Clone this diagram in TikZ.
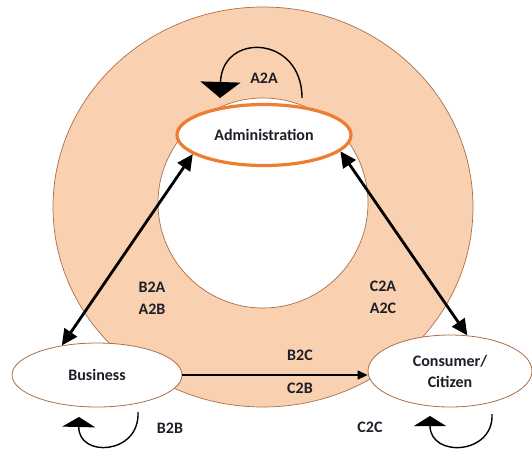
\documentclass[tikz,border=0pt]{standalone}
\usepackage{fontspec}
\setmainfont{Carlito}
\usetikzlibrary{shapes.geometric,arrows.meta}
\definecolor{peach}{RGB}{250,209,176}
\definecolor{rim}{RGB}{170,110,75}
\definecolor{adminorange}{RGB}{237,125,49}
\definecolor{txt}{RGB}{30,30,40}
\tikzset{
  actor/.style={ellipse, draw=rim, line width=0.8pt, fill=white, inner sep=0pt, align=center,
    font=\bfseries\fontsize{16}{21}\selectfont, text=txt},
  lab/.style={font=\bfseries\fontsize{16}{21}\selectfont, text=txt, inner sep=0pt},
  bigarrow/.style={line width=2.8pt, {Triangle[length=16pt,width=15pt]}-{Triangle[length=16pt,width=15pt]}},
  selfloop/.style={line width=1.4pt},
}
\begin{document}
\begin{tikzpicture}[x=1pt,y=-1pt]
\useasboundingbox (0,0) rectangle (532,453);
% ring
\fill[peach, even odd rule] (263,207) ellipse [x radius=210, y radius=200] (263,203) circle [radius=105];
\draw[rim, line width=0.7pt] (263,207) ellipse [x radius=210, y radius=200];
\draw[rim, line width=0.7pt] (263,203) circle [radius=105];
% actors
\node[actor, draw=adminorange, line width=3.2pt, minimum width=174pt, minimum height=61pt] (adm) at (264,135) {Administration};
\node[actor, minimum width=170pt, minimum height=64pt] (bus) at (97,375) {Business};
\node[actor, minimum width=164pt, minimum height=72pt] (con) at (450,371) {Consumer/\\Citizen};
% connectors
\draw[bigarrow] (bus.140) -- (adm.195);
\draw[bigarrow] (adm.-12) -- (con.64);
\draw[line width=1.3pt, -{Triangle[length=10pt,width=9pt]}] (bus.east) -- (con.west |- bus.east);
% labels
\node[lab] (b2a) at (152,287) {B2A};
\node[lab] (a2b) at (152,309) {A2B};
\node[lab] (c2a) at (383,286) {C2A};
\node[lab] (a2c) at (383,308) {A2C};
\node[lab] (b2c) at (300,355) {B2C};
\node[lab] (c2b) at (300,388) {C2B};
\node[lab] (a2a) at (264,78) {A2A};
\node[lab] (b2b) at (170,428) {B2B};
\node[lab] (c2c) at (370,427) {C2C};
% self loops
\coordinate (a2as) at (302,98);
\coordinate (a2ae) at (220,98);
\draw[selfloop, -{Triangle[length=16pt,width=40pt]}] (a2as) .. controls (302,35) and (222,32) .. (a2ae);
\coordinate (b2bs) at (138,412);
\coordinate (b2be) at (79,417);
\draw[selfloop, -{Triangle[length=10pt,width=33pt]}] (b2bs) .. controls (140,455) and (78,458) .. (b2be);
\coordinate (c2cs) at (492,414);
\coordinate (c2ce) at (430,416);
\draw[selfloop, -{Triangle[length=10pt,width=32pt]}] (c2cs) .. controls (494,455) and (430,458) .. (c2ce);
\end{tikzpicture}
\end{document}
